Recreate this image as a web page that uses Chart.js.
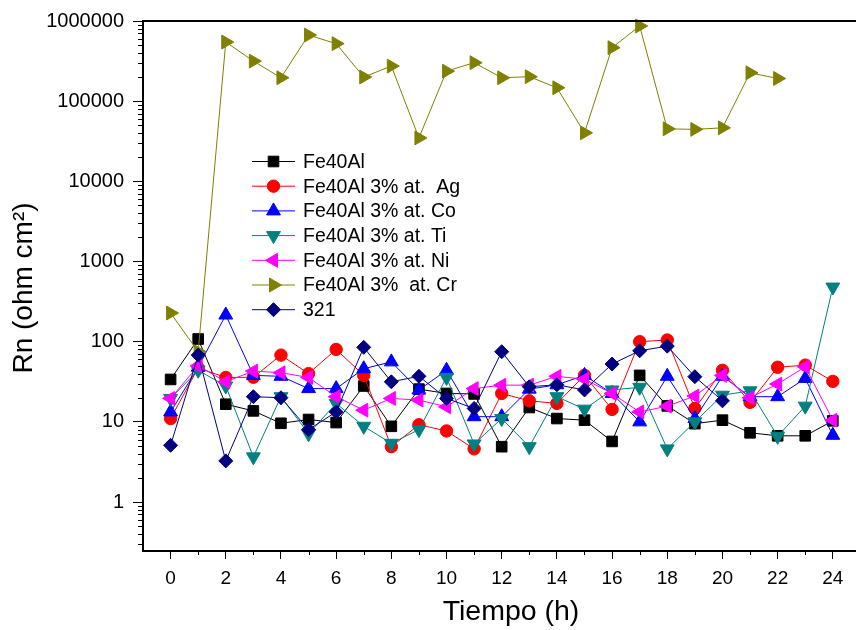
<!DOCTYPE html>
<html>
<head>
<meta charset="utf-8">
<script src="https://cdn.jsdelivr.net/npm/chart.js@4.4.1/dist/chart.umd.min.js"></script>
<style>
  html, body { margin: 0; padding: 0; background: #fff; overflow: hidden; }
  #wrap { width: 856px; height: 630px; position: relative; }
</style>
</head>
<body>
<div id="wrap"><canvas id="c" width="856" height="630"></canvas></div>
<script>
// Noise resistance Rn versus immersion time
const hours = [0, 1, 2, 3, 4, 5, 6, 7, 8, 9, 10, 11, 12, 13, 14, 15, 16, 17, 18, 19, 20, 21, 22, 23, 24];

const rnFe40Al = [33.8, 108, 16.6, 13.7, 9.6, 10.7, 9.8, 28, 8.8, 25.6, 22.6, 22.3, 4.9, 15.1, 11, 10.5, 5.7, 38, 15.8, 9.5, 10.5, 7.3, 6.7, 6.7, 10.3];
const rnAg     = [11, 47, 35.8, 36, 68, 40, 80, 38, 4.9, 9.2, 7.7, 4.6, 22.6, 18.3, 17, 38, 14.3, 100, 105, 14.7, 44, 17.5, 48, 51, 32];
const rnCo     = [13.3, 48, 215, 38, 37, 26, 26, 46, 56, 25, 44, 11.6, 11.6, 25.6, 29, 38, 22.6, 10, 37, 11, 37, 20.6, 20.6, 34.8, 6.8];
const rnTi     = [19.6, 44, 28, 3.66, 20.6, 7.1, 17, 8.8, 5.4, 8, 35.8, 5.3, 11, 4.9, 20.6, 14.4, 25, 27, 4.6, 10, 21.5, 24.4, 6.6, 15.7, 480];
const rnNi     = [19.6, 50, 31.6, 43, 41, 35.8, 20.6, 14, 19.6, 18.7, 15.4, 26, 28.7, 28.7, 37, 34, 22.6, 13.3, 15.7, 21, 38, 20, 29.6, 48.7, 10.5];
const rnCr     = [228, 75, 547000, 316000, 196000, 668000, 522000, 200000, 274000, 34800, 237000, 302000, 196000, 202000, 147000, 40300, 465000, 866000, 45200, 44500, 46500, 226000, 192000];
const rn321    = [5.1, 68, 3.26, 20.6, 20, 8.0, 13.3, 85, 31.6, 37, 19.6, 14.7, 75, 27.4, 29, 25, 52.6, 77, 88, 36.6, 18.3];

const seriesLabels = ['Fe40Al', 'Fe40Al 3% at.  Ag', 'Fe40Al 3% at. Co', 'Fe40Al 3% at. Ti', 'Fe40Al 3% at. Ni', 'Fe40Al 3%  at. Cr', '321'];
const seriesValues = [rnFe40Al, rnAg, rnCo, rnTi, rnNi, rnCr, rn321];

const xTickValues = [0, 2, 4, 6, 8, 10, 12, 14, 16, 18, 20, 22, 24];
const yTickValues = [1, 10, 100, 1000, 10000, 100000, 1000000];

// marker look for each series
const seriesStyle = [
  { color: '#000000', shape: 'rect',     rot: 0,   r: 7.5 },
  { color: '#FF0000', shape: 'circle',   rot: 0,   r: 6.2 },
  { color: '#0000FF', shape: 'triangle', rot: 0,   r: 8 },
  { color: '#008080', shape: 'triangle', rot: 180, r: 8 },
  { color: '#FF00FF', shape: 'triangle', rot: -90, r: 8 },
  { color: '#808000', shape: 'triangle', rot: 90,  r: 8 },
  { color: '#000080', shape: 'rectRot',  rot: 0,   r: 7 }
];

const FONT = '"Liberation Sans", Arial, sans-serif';

const datasets = seriesValues.map((vals, i) => ({
  label: seriesLabels[i],
  data: vals.map((v, k) => ({ x: hours[k], y: v })),
  borderColor: seriesStyle[i].color,
  backgroundColor: seriesStyle[i].color,
  borderWidth: 1,
  pointStyle: seriesStyle[i].shape,
  pointRotation: seriesStyle[i].rot,
  pointRadius: seriesStyle[i].r,
  pointBorderWidth: 1,
  pointBorderColor: seriesStyle[i].color,
  pointBackgroundColor: seriesStyle[i].color,
  tension: 0,
  clip: false,
  order: seriesValues.length - i
}));

function marker(ctx, shape, rot, r, x, y) {
  const rad = rot * Math.PI / 180;
  ctx.beginPath();
  if (shape === 'circle') {
    ctx.arc(x, y, r, 0, Math.PI * 2);
  } else if (shape === 'rect') {
    const s = r * Math.SQRT1_2;
    ctx.rect(x - s, y - s, 2 * s, 2 * s);
  } else if (shape === 'rectRot') {
    ctx.moveTo(x - r, y); ctx.lineTo(x, y - r); ctx.lineTo(x + r, y); ctx.lineTo(x, y + r);
  } else {
    let a = rad;
    ctx.moveTo(x + Math.sin(a) * r, y - Math.cos(a) * r);
    a += 2 * Math.PI / 3;
    ctx.lineTo(x + Math.sin(a) * r, y - Math.cos(a) * r);
    a += 2 * Math.PI / 3;
    ctx.lineTo(x + Math.sin(a) * r, y - Math.cos(a) * r);
  }
  ctx.closePath();
  ctx.fill();
  ctx.stroke();
}

const decorations = {
  id: 'decorations',
  afterDraw(chart) {
    const { ctx, chartArea: a, scales } = chart;
    const xs = scales.x, ys = scales.y;
    ctx.save();
    ctx.strokeStyle = '#000';

    // top frame line
    ctx.lineWidth = 2;
    ctx.beginPath();
    ctx.moveTo(a.left - 1, a.top);
    ctx.lineTo(856, a.top);
    ctx.stroke();

    // minor ticks
    ctx.lineWidth = 1;
    ctx.beginPath();
    for (let e = -1; e <= 5; e++) {
      for (let m = 2; m <= 9; m++) {
        const v = m * Math.pow(10, e);
        if (v < ys.min || v > ys.max) continue;
        const py = Math.round(ys.getPixelForValue(v)) + 0.5;
        ctx.moveTo(a.left - 5, py);
        ctx.lineTo(a.left, py);
      }
    }
    for (let h = 1; h < 25; h += 2) {
      const px = Math.round(xs.getPixelForValue(h)) + 0.5;
      ctx.moveTo(px, a.bottom);
      ctx.lineTo(px, a.bottom + 4);
    }
    ctx.stroke();

    // axis titles
    ctx.fillStyle = '#000';
    ctx.textAlign = 'center';
    ctx.textBaseline = 'middle';
    ctx.font = '28.5px ' + FONT;
    ctx.fillText('Tiempo (h)', 511, 612);
    ctx.font = '28px ' + FONT;
    ctx.save();
    ctx.translate(24, 288);
    ctx.rotate(-Math.PI / 2);
    ctx.fillText('Rn (ohm cm\u00B2)', 0, 0);
    ctx.restore();

    // legend
    ctx.font = '19.5px ' + FONT;
    ctx.textAlign = 'left';
    ctx.textBaseline = 'middle';
    seriesLabels.forEach((lab, i) => {
      const st = seriesStyle[i];
      const yy = 161.5 + i * 24.7;
      ctx.strokeStyle = st.color;
      ctx.fillStyle = st.color;
      ctx.lineWidth = 1;
      ctx.beginPath();
      ctx.moveTo(252, yy);
      ctx.lineTo(295, yy);
      ctx.stroke();
      marker(ctx, st.shape, st.rot, st.r, 273.5, yy);
      ctx.fillStyle = '#000';
      ctx.fillText(lab, 303, yy + 1);
    });
    ctx.restore();
  }
};

// fixed plot rectangle: left 143, right 856, top 21, bottom 551
const plotFrame = {
  id: 'plotFrame',
  afterLayout(chart) {
    const a = chart.chartArea;
    a.left = 143; a.right = 856; a.top = 21; a.bottom = 551;
    a.width = a.right - a.left; a.height = a.bottom - a.top;
    const xs = chart.scales.x, ys = chart.scales.y;
    xs.left = 143; xs.right = 856; xs.width = 713; xs.top = 551; xs.bottom = 630; xs.height = 79;
    xs.paddingLeft = 0; xs.paddingRight = 0;
    ys.left = 0; ys.right = 143; ys.width = 143; ys.top = 21; ys.bottom = 551; ys.height = 530;
    ys.paddingTop = 0; ys.paddingBottom = 0;
    xs.configure(); ys.configure();
  }
};

new Chart(document.getElementById('c'), {
  type: 'line',
  data: { datasets },
  plugins: [plotFrame, decorations],
  options: {
    responsive: false,
    animation: false,
    devicePixelRatio: 1,
    layout: { padding: { top: 21, right: 0, left: 0, bottom: 0 } },
    plugins: { legend: { display: false }, tooltip: { enabled: false } },
    scales: {
      x: {
        type: 'linear',
        min: -1,
        max: 24.84,
        afterBuildTicks: s => { s.ticks = xTickValues.map(v => ({ value: v })); },
        afterFit: s => { s.height = 79; s.paddingLeft = 0; s.paddingRight = 0; },
        ticks: {
          autoSkip: false, maxRotation: 0, padding: 8, color: '#000',
          font: { family: FONT, size: 19 },
          callback: v => String(v)
        },
        grid: { drawOnChartArea: false, color: '#000', tickLength: 8, tickWidth: 1 },
        border: { color: '#000', width: 2 }
      },
      y: {
        type: 'logarithmic',
        min: 0.245,
        max: 1000000,
        afterBuildTicks: s => { s.ticks = yTickValues.map(v => ({ value: v, major: true })); },
        afterFit: s => { s.width = 143; },
        ticks: {
          autoSkip: false, padding: 9, color: '#000',
          font: { family: FONT, size: 20 },
          callback: v => String(v)
        },
        grid: { drawOnChartArea: false, color: '#000', tickLength: 10, tickWidth: 1 },
        border: { color: '#000', width: 2 }
      }
    }
  }
});
</script>
</body>
</html>
